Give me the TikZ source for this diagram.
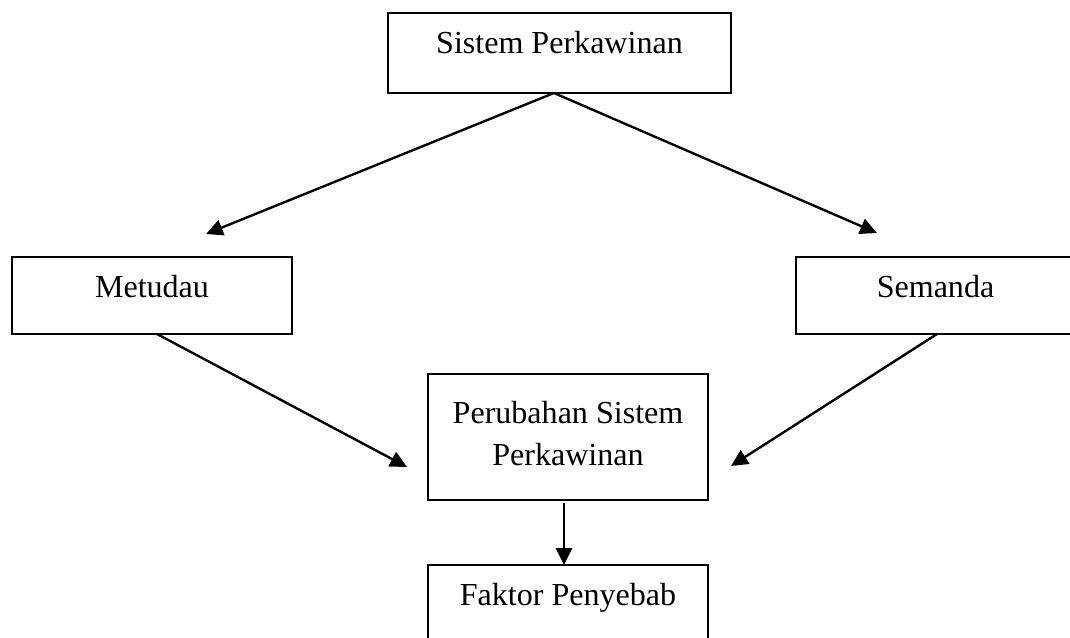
\documentclass[tikz,border=0pt]{standalone}
\usepackage{fontspec}
\setmainfont{Liberation Serif}
\usetikzlibrary{arrows.meta}

\begin{document}
\begin{tikzpicture}[x=0.025cm, y=-0.025cm,
    box/.style={draw, line width=1.7pt, inner sep=0pt, outer sep=0pt, anchor=north,
      align=center, font=\fontsize{22.8}{29.8}\selectfont},
    arr/.style={line width=1.7pt, -{Triangle[length=0.42cm, width=0.4cm]}}]
  % page
  \useasboundingbox (0,0) rectangle (1070,637);
  \clip (0,0) rectangle (1070,637);

  % Top box
  \node[box, minimum width=8.575cm, text height=1.0cm, text depth=1.0cm]
    (sistem) at (559.5,13) {Sistem Perkawinan};

  % Left and right boxes
  \node[box, minimum width=7.0cm, text height=1.0cm, text depth=0.925cm]
    (metudau) at (152,257) {Metudau};
  \node[box, minimum width=6.975cm, text height=1.0cm, text depth=0.925cm]
    (semanda) at (935.5,257) {Semanda};

  % Middle box (base = last line)
  \node[box, minimum width=7.0cm, text height=2.275cm, text depth=0.875cm]
    (perubahan) at (568,374) {Perubahan Sistem\\Perkawinan};

  % Bottom box
  \node[box, minimum width=7.0cm, text height=1.0cm, text depth=1.0cm]
    (faktor) at (568,565) {Faktor Penyebab};

  % Arrow ends
  \coordinate (apex) at (554,93);
  \coordinate (tipL) at (206,234);
  \coordinate (tipR) at (877,233);
  \coordinate (outL) at (157,334);
  \coordinate (outR) at (937,334);
  \coordinate (inL) at (407,467);
  \coordinate (inR) at (731,466);
  \coordinate (outM) at (564,503);
  \coordinate (inM) at (564,565);

  % Arrows
  \draw[arr] (apex) -- (tipL);
  \draw[arr] (apex) -- (tipR);
  \draw[arr] (outL) -- (inL);
  \draw[arr] (outR) -- (inR);
  \draw[arr] (outM) -- (inM);
\end{tikzpicture}
\end{document}
